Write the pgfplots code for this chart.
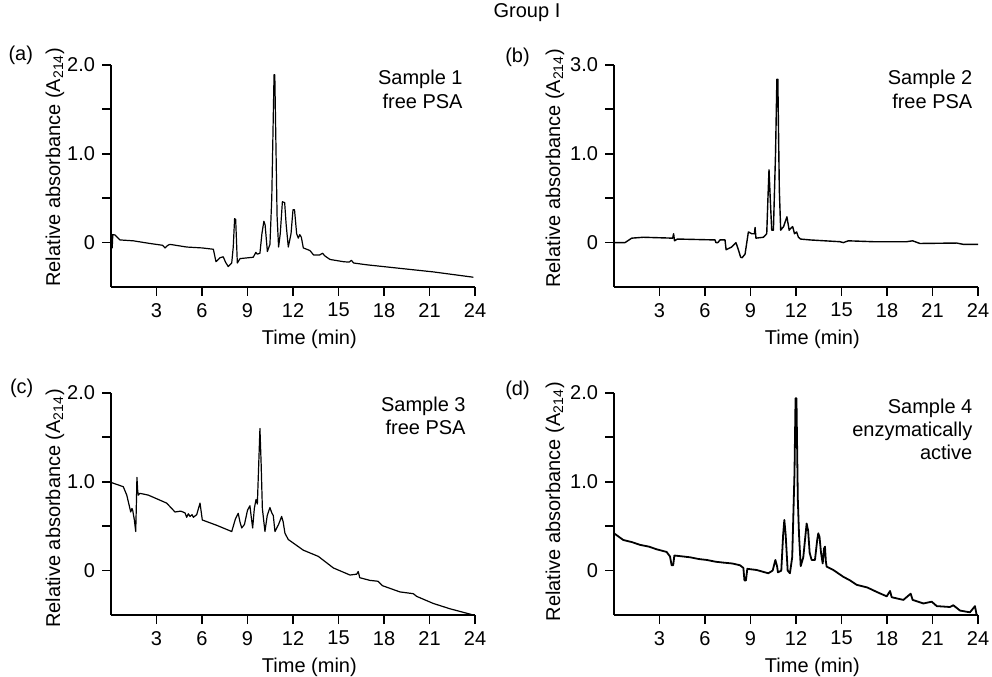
\documentclass[border=0pt]{standalone}
\usepackage{fontspec}
\setmainfont{Liberation Sans}
\usepackage{pgfplots}
\usepackage{pgfplotstable}
\pgfplotsset{compat=1.18}

\pgfplotstableread{
x y
0.00 0.10
0.06 0.09
0.08 -0.06
0.12 0.09
0.26 0.086
0.59 0.03
1.47 0.02
2.57 -0.01
3.40 -0.03
3.56 -0.06
3.75 -0.03
3.89 -0.02
4.99 -0.05
6.00 -0.06
6.75 -0.075
6.92 -0.215
7.19 -0.17
7.40 -0.16
7.55 -0.22
7.73 -0.27
7.96 -0.23
8.06 -0.05
8.15 0.27
8.22 0.26
8.33 -0.23
8.51 -0.18
9.38 -0.165
9.55 -0.11
9.65 -0.13
9.82 -0.12
9.95 0.10
10.08 0.24
10.16 0.20
10.31 -0.10
10.48 -0.02
10.60 0.50
10.75 1.89
10.80 1.89
10.95 0.30
11.05 -0.05
11.16 0.10
11.30 0.46
11.45 0.45
11.55 0.20
11.69 -0.05
11.87 0.10
12.00 0.37
12.10 0.37
12.24 0.10
12.35 0.05
12.45 0.09
12.55 0.06
12.68 -0.06
13.12 -0.09
13.36 -0.14
13.75 -0.14
13.95 -0.12
14.10 -0.15
14.44 -0.19
15.32 -0.215
15.70 -0.22
15.85 -0.20
16.00 -0.23
16.86 -0.25
19.05 -0.29
21.25 -0.33
23.89 -0.39
}\dataA

\pgfplotstableread{
x y
0.00 0.00
0.73 0.00
1.17 0.05
1.93 0.06
3.87 0.05
3.93 0.10
3.99 0.02
4.18 0.04
6.66 0.03
6.72 0.00
6.85 0.00
6.99 0.03
7.32 0.03
7.39 -0.08
7.76 -0.05
8.04 0.00
8.20 -0.08
8.35 -0.165
8.45 -0.17
8.64 -0.13
8.86 0.12
9.08 0.10
9.26 0.10
9.30 0.17
9.36 0.05
9.85 0.06
10.07 0.10
10.15 0.50
10.22 0.82
10.30 0.50
10.40 0.14
10.51 0.14
10.65 1.00
10.74 1.84
10.80 1.84
10.90 0.60
10.99 0.14
11.18 0.18
11.40 0.29
11.55 0.14
11.65 0.16
11.78 0.18
11.90 0.10
12.04 0.12
12.16 0.06
12.30 0.04
12.92 0.03
14.90 0.01
15.12 0.00
15.45 0.02
17.09 0.01
19.29 0.01
19.69 0.02
20.17 -0.01
22.59 -0.005
23.03 -0.02
24.00 -0.02
}\dataB

\pgfplotstableread{
x y
0.00 1.00
0.05 0.99
0.81 0.945
1.04 0.85
1.30 0.66
1.38 0.70
1.43 0.68
1.54 0.57
1.63 0.44
1.68 0.80
1.71 1.05
1.76 0.90
1.80 0.85
1.91 0.87
2.46 0.85
3.00 0.81
3.67 0.76
4.22 0.66
4.60 0.67
4.88 0.65
4.99 0.60
5.10 0.64
5.21 0.61
5.35 0.63
5.43 0.60
5.65 0.63
5.87 0.76
6.02 0.57
6.97 0.51
7.96 0.44
8.20 0.58
8.39 0.645
8.50 0.55
8.62 0.48
8.80 0.52
9.00 0.68
9.16 0.73
9.25 0.60
9.34 0.48
9.45 0.70
9.56 0.80
9.65 0.75
9.74 1.20
9.82 1.60
9.90 1.20
9.98 0.70
10.15 0.44
10.30 0.62
10.48 0.71
10.60 0.65
10.70 0.62
10.81 0.44
11.05 0.52
11.25 0.61
11.35 0.55
11.47 0.42
11.69 0.35
12.68 0.23
13.67 0.16
14.66 0.03
15.76 -0.05
16.20 -0.04
16.30 -0.01
16.40 -0.08
17.07 -0.11
17.60 -0.12
17.90 -0.17
19.05 -0.24
19.93 -0.26
20.15 -0.29
21.25 -0.37
22.35 -0.43
23.89 -0.50
}\dataC

\pgfplotstableread{
x y
0.00 0.42
0.61 0.345
1.20 0.32
1.71 0.29
2.30 0.27
2.81 0.24
3.47 0.21
3.69 0.16
3.80 0.06
3.90 0.06
3.98 0.17
4.50 0.16
5.01 0.15
5.60 0.13
6.11 0.12
6.70 0.10
7.21 0.09
7.80 0.08
8.31 0.06
8.53 0.03
8.60 -0.11
8.70 -0.11
8.79 0.02
9.40 0.007
10.17 -0.03
10.46 0.00
10.64 0.12
10.75 0.05
10.81 -0.02
11.03 0.00
11.15 0.40
11.23 0.57
11.32 0.40
11.45 0.00
11.60 -0.03
11.75 0.15
11.90 1.10
11.97 1.94
12.03 1.94
12.12 0.80
12.20 0.40
12.31 0.05
12.48 0.15
12.70 0.53
12.80 0.45
12.90 0.20
13.03 0.12
13.25 0.12
13.40 0.35
13.47 0.42
13.55 0.38
13.65 0.20
13.76 0.08
13.85 0.25
13.91 0.27
13.97 0.10
14.02 0.045
14.46 0.007
15.12 -0.07
15.56 -0.11
16.00 -0.16
16.70 -0.19
17.32 -0.24
17.98 -0.29
18.20 -0.23
18.31 -0.30
19.08 -0.33
19.56 -0.26
19.69 -0.33
20.40 -0.37
20.95 -0.35
21.28 -0.40
22.15 -0.41
22.37 -0.39
22.81 -0.45
23.47 -0.47
23.80 -0.40
23.91 -0.50
}\dataD

\pgfplotsset{
  chrom/.style={
    scale only axis, width=182bp, height=111bp,
    xmin=0, xmax=24, ymin=-0.5, ymax=2,
    axis lines=left,
    axis line style={-, line width=0.9bp},
    tick align=outside,
    major tick length=4.5bp, minor tick length=4.5bp,
    tick style={line width=0.9bp, black},
    xtick={3,6,...,24},
    xticklabels={3,6,9,12,15,18,21,24},
    ytick={0,1,2},
    minor ytick={0.5,1.5},
    xlabel={Time (min)},
    ylabel={Relative absorbance (A\textsubscript{214})},
    font=\fontsize{10bp}{12bp}\selectfont,
    ticklabel style={font=\fontsize{10bp}{12bp}\selectfont},
    label style={font=\fontsize{10bp}{12bp}\selectfont},
    xlabel style={at={(axis description cs:0.545,-0.237)}, anchor=center},
    clip=false,
    every axis plot/.append style={line join=round},
  },
}

\begin{document}
\begin{tikzpicture}
\useasboundingbox (0,0) rectangle (496bp,338.5bp);
\node[font=\fontsize{10bp}{12bp}\selectfont] at (263.5bp,332bp) {Group I};

\begin{axis}[chrom, at={(55.5bp,195bp)}, anchor=south west,
  yticklabels={0,1.0,2.0},
  ylabel style={at={(axis description cs:-0.154,0.54)}, anchor=center}]
\addplot[black, line width=0.6bp] table[x=x,y=y] {\dataA};
\end{axis}

\begin{axis}[chrom, at={(307bp,195bp)}, anchor=south west,
  yticklabels={0,1.0,3.0},
  ylabel style={at={(axis description cs:-0.162,0.535)}, anchor=center}]
\addplot[black, line width=0.7bp] table[x=x,y=y] {\dataB};
\end{axis}

\begin{axis}[chrom, at={(55.5bp,31bp)}, anchor=south west,
  yticklabels={0,1.0,2.0},
  ylabel style={at={(axis description cs:-0.154,0.48)}, anchor=center}]
\addplot[black, line width=0.6bp] table[x=x,y=y] {\dataC};
\end{axis}

\begin{axis}[chrom, at={(307bp,31bp)}, anchor=south west,
  yticklabels={0,1.0,2.0},
  ylabel style={at={(axis description cs:-0.162,0.51)}, anchor=center}]
\addplot[black, line width=0.9bp] table[x=x,y=y] {\dataD};
\end{axis}

\begin{scope}[every node/.style={font=\fontsize{10bp}{11.7bp}\selectfont, inner sep=0pt}]
\node at (10.4bp,311bp) {(a)};
\node at (258.75bp,310bp) {(b)};
\node at (10.85bp,144.5bp) {(c)};
\node at (258.75bp,143.5bp) {(d)};
\node[anchor=north east, align=right] at (231.5bp,303.5bp) {Sample 1\\free PSA};
\node[anchor=north east, align=right] at (486.35bp,303.5bp) {Sample 2\\free PSA};
\node[anchor=north east, align=right] at (233bp,140.15bp) {Sample 3\\free PSA};
\node[anchor=north east, align=right] at (486.35bp,139.35bp) {Sample 4\\enzymatically\\active};
\end{scope}
\end{tikzpicture}
\end{document}
